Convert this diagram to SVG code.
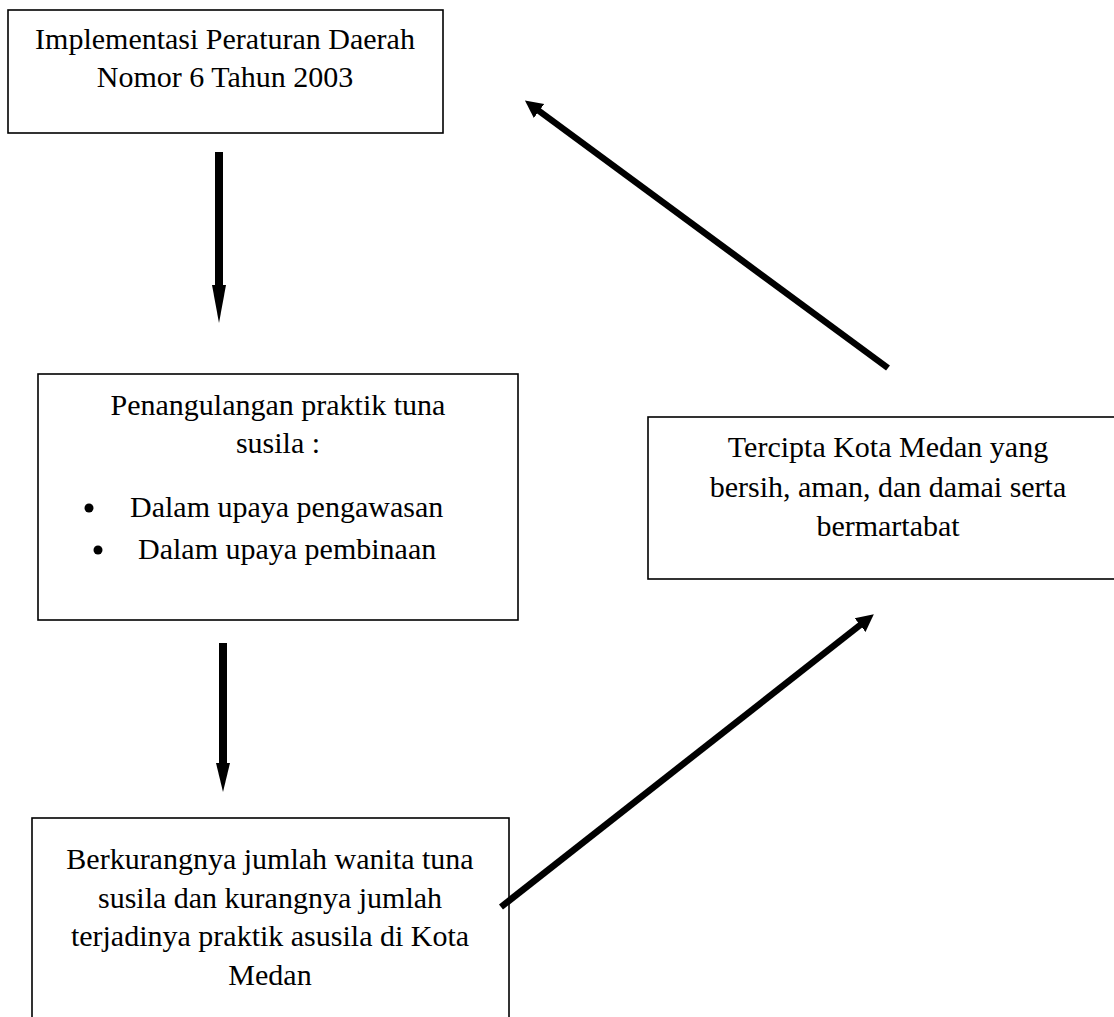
<svg xmlns="http://www.w3.org/2000/svg" width="1114" height="1017" viewBox="0 0 1114 1017">
<style>
.box{fill:#fff;stroke:#000;stroke-width:1.6}
.t{font-family:"Liberation Serif","Times New Roman",serif;font-size:30px;fill:#000;text-anchor:middle}
.tl{font-family:"Liberation Serif","Times New Roman",serif;font-size:30px;fill:#000}
.diag{stroke:#000;stroke-width:6.5;fill:none;marker-end:url(#ah)}
</style>
<defs>
<marker id="ah" markerUnits="userSpaceOnUse" markerWidth="20" markerHeight="20" viewBox="0 -8 16 16" refX="4" refY="0" orient="auto">
<path d="M0,-7 L14,0 L0,7 z" fill="#000"/>
</marker>
</defs>
<rect width="1114" height="1017" fill="#fff"/>
<g id="node-implementasi">
<rect class="box" x="8" y="10" width="435" height="123"/>
<text class="t" x="225" y="49">Implementasi Peraturan Daerah</text>
<text class="t" x="225" y="87">Nomor 6 Tahun 2003</text>
</g>
<g id="node-penanggulangan">
<rect class="box" x="38" y="374" width="480" height="246"/>
<text class="t" x="278" y="415">Penangulangan praktik tuna</text>
<text class="t" x="278" y="453">susila :</text>
<circle cx="89" cy="508" r="4.5" fill="#000"/>
<text class="tl" x="130" y="517">Dalam upaya pengawasan</text>
<circle cx="98" cy="550" r="4.5" fill="#000"/>
<text class="tl" x="138" y="559">Dalam upaya pembinaan</text>
</g>
<g id="node-berkurangnya">
<rect class="box" x="32" y="818" width="477" height="230"/>
<text class="t" x="270" y="869">Berkurangnya jumlah wanita tuna</text>
<text class="t" x="270" y="908">susila dan kurangnya jumlah</text>
<text class="t" x="270" y="946">terjadinya praktik asusila di Kota</text>
<text class="t" x="270" y="985">Medan</text>
</g>
<g id="node-tercipta">
<rect class="box" x="648" y="417" width="480" height="162"/>
<text class="t" x="888" y="457">Tercipta Kota Medan yang</text>
<text class="t" x="888" y="497">bersih, aman, dan damai serta</text>
<text class="t" x="888" y="536">bermartabat</text>
</g>
<g id="connectors">
<rect x="215" y="152" width="8" height="134" fill="#000"/>
<polygon points="212,285 226,285 219,323" fill="#000"/>
<rect x="219" y="643" width="8" height="121" fill="#000"/>
<polygon points="216,763 230,763 223,792" fill="#000"/>
<line class="diag" x1="888" y1="368" x2="535" y2="108"/>
<line class="diag" x1="501" y1="907" x2="864" y2="622"/>
</g>
</svg>
